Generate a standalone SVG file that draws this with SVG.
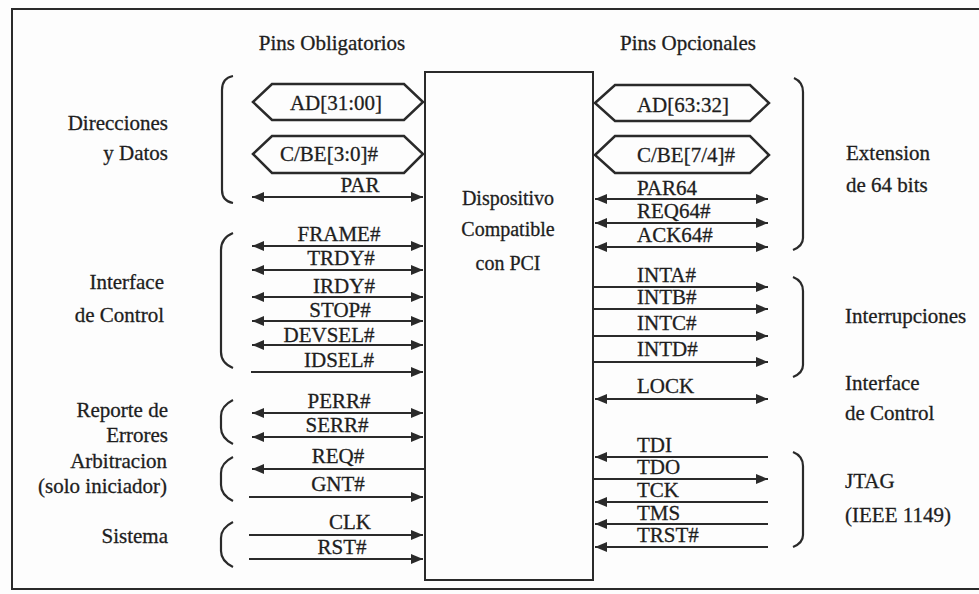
<svg xmlns="http://www.w3.org/2000/svg" width="979" height="594" viewBox="0 0 979 594">
<defs>
<style>
text{font-family:'Liberation Serif','Times New Roman','DejaVu Serif',serif;font-size:21px;fill:#1e1e1e;stroke:#1e1e1e;stroke-width:0.3}
.dev{font-size:20px}
.c{text-anchor:middle}
.e{text-anchor:end}
.ln{stroke:#2a2a2a;stroke-width:2;fill:none}
.bus{stroke:#2a2a2a;stroke-width:2.5;fill:none;stroke-linejoin:miter}
.br{stroke:#2a2a2a;stroke-width:2.2;fill:none}
.a2{marker-start:url(#ah);marker-end:url(#ah)}
.ar{marker-end:url(#ah)}
</style>
<marker id="ah" viewBox="0 0 12 10" refX="12" refY="5" markerWidth="12" markerHeight="10" markerUnits="userSpaceOnUse" orient="auto-start-reverse">
<path d="M0,0 L12,5 L0,10 z" fill="#2a2a2a"/>
</marker>
</defs>
<rect x="0" y="0" width="979" height="594" fill="#fdfdfd"/>
<path d="M979,9 H12 V589 H979" fill="none" stroke="#2a2a2a" stroke-width="2"/>
<g font-family="Liberation Serif, Times New Roman, serif">
<g id="headers">
<text x="332" y="50" class="c">Pins Obligatorios</text>
<text x="688" y="50" class="c">Pins Opcionales</text>
</g>

<g id="device">
<rect x="425" y="72" width="168" height="508" fill="#fdfdfd" stroke="#2a2a2a" stroke-width="2"/>
<text x="508" y="205" class="c dev">Dispositivo</text>
<text x="508" y="236" class="c dev">Compatible</text>
<text x="508" y="270" class="c dev">con PCI</text>
</g>

<g id="bus-ad-low">
<path class="bus" d="M253,102 L272,84 H404 L423,102 L404,120 H272 Z"/>
<text x="336" y="110" class="c">AD[31:00]</text>
</g>
<g id="bus-cbe-low">
<path class="bus" d="M253,154 L272,136 H404 L423,154 L404,173 H272 Z"/>
<text x="329" y="161" class="c">C/BE[3:0]#</text>
</g>
<g id="bus-ad-high">
<path class="bus" d="M595,103 L615,85 H750 L769,103 L750,121 H615 Z"/>
<text x="683" y="112" class="c">AD[63:32]</text>
</g>
<g id="bus-cbe-high">
<path class="bus" d="M595,155 L615,136 H750 L769,155 L750,173 H615 Z"/>
<text x="686" y="162" class="c">C/BE[7/4]#</text>
</g>

<g id="connectors">
<line class="ln a2" x1="252" y1="197" x2="423" y2="197"/>
<line class="ln a2" x1="252" y1="246" x2="423" y2="246"/>
<line class="ln a2" x1="252" y1="270" x2="423" y2="270"/>
<line class="ln a2" x1="252" y1="297" x2="423" y2="297"/>
<line class="ln a2" x1="252" y1="321" x2="423" y2="321"/>
<line class="ln a2" x1="252" y1="345" x2="423" y2="345"/>
<line class="ln ar" x1="251" y1="372" x2="423" y2="372"/>
<line class="ln a2" x1="252" y1="413" x2="423" y2="413"/>
<line class="ln a2" x1="252" y1="437" x2="423" y2="437"/>
<line class="ln ar" x1="424" y1="469" x2="252" y2="469"/>
<line class="ln ar" x1="249" y1="497" x2="423" y2="497"/>
<line class="ln ar" x1="249" y1="535" x2="423" y2="535"/>
<line class="ln ar" x1="249" y1="559" x2="423" y2="559"/>

<line class="ln a2" x1="595" y1="199" x2="768" y2="199"/>
<line class="ln a2" x1="595" y1="223" x2="768" y2="223"/>
<line class="ln a2" x1="595" y1="247" x2="768" y2="247"/>
<line class="ln ar" x1="594" y1="287" x2="768" y2="287"/>
<line class="ln ar" x1="594" y1="309" x2="768" y2="309"/>
<line class="ln ar" x1="594" y1="336" x2="768" y2="336"/>
<line class="ln ar" x1="594" y1="362" x2="768" y2="362"/>
<line class="ln a2" x1="595" y1="399" x2="768" y2="399"/>
<line class="ln ar" x1="768" y1="457" x2="595" y2="457"/>
<line class="ln ar" x1="594" y1="479" x2="768" y2="479"/>
<line class="ln ar" x1="768" y1="502" x2="595" y2="502"/>
<line class="ln ar" x1="768" y1="524" x2="595" y2="524"/>
<line class="ln ar" x1="768" y1="547" x2="595" y2="547"/>
</g>

<g id="signal-labels">
<text class="c" x="360" y="192">PAR</text>
<text class="c" x="339" y="241">FRAME#</text>
<text class="c" x="341" y="265">TRDY#</text>
<text class="c" x="344" y="293">IRDY#</text>
<text class="c" x="340" y="317">STOP#</text>
<text class="c" x="329" y="342">DEVSEL#</text>
<text class="c" x="339" y="367">IDSEL#</text>
<text class="c" x="339" y="408">PERR#</text>
<text class="c" x="337" y="432">SERR#</text>
<text class="c" x="338" y="463">REQ#</text>
<text class="c" x="338" y="491">GNT#</text>
<text class="c" x="350" y="529">CLK</text>
<text class="c" x="342" y="554">RST#</text>

<text x="637" y="195">PAR64</text>
<text x="637" y="218">REQ64#</text>
<text x="637" y="242">ACK64#</text>
<text x="637" y="282">INTA#</text>
<text x="637" y="304">INTB#</text>
<text x="637" y="330">INTC#</text>
<text x="637" y="356">INTD#</text>
<text x="637" y="393">LOCK</text>
<text x="637" y="452">TDI</text>
<text x="637" y="474">TDO</text>
<text x="637" y="497">TCK</text>
<text x="637" y="520">TMS</text>
<text x="637" y="542">TRST#</text>
</g>

<g id="group-direcciones">
<path class="br" d="M233,76 Q222,78 222,90 V190 Q222,201 233,203"/>
<text x="168" y="130" class="e">Direcciones</text>
<text x="168" y="160" class="e">y Datos</text>
</g>
<g id="group-interface-izq">
<path class="br" d="M233,233 Q221,238 221,250 V352 Q221,363 233,368"/>
<text x="164" y="289" class="e">Interface</text>
<text x="164" y="322" class="e">de Control</text>
</g>
<g id="group-errores">
<path class="br" d="M233,400 Q221,406 221,416 V428 Q221,438 233,444"/>
<text x="168" y="417" class="e">Reporte de</text>
<text x="168" y="442" class="e">Errores</text>
</g>
<g id="group-arbitracion">
<path class="br" d="M233,457 Q221,463 221,473 V485 Q221,495 233,501"/>
<text x="167" y="468" class="e">Arbitracion</text>
<text x="167" y="493" class="e">(solo iniciador)</text>
</g>
<g id="group-sistema">
<path class="br" d="M233,522 Q221,528 221,538 V551 Q221,561 233,567"/>
<text x="168" y="543" class="e">Sistema</text>
</g>

<g id="group-extension">
<path class="br" d="M794,78 Q803,82 803,92 V238 Q803,246 793,250"/>
<text x="846" y="160">Extension</text>
<text x="846" y="192">de 64 bits</text>
</g>
<g id="group-interrupciones">
<path class="br" d="M793,277 Q803,281 803,291 V365 Q803,373 793,377"/>
<text x="845" y="323">Interrupciones</text>
</g>
<g id="group-interface-der">
<text x="845" y="390">Interface</text>
<text x="845" y="420">de Control</text>
</g>
<g id="group-jtag">
<path class="br" d="M793,452 Q803,456 803,466 V535 Q803,543 793,547"/>
<text x="845" y="488">JTAG</text>
<text x="845" y="522">(IEEE 1149)</text>
</g>
</g>
</svg>
